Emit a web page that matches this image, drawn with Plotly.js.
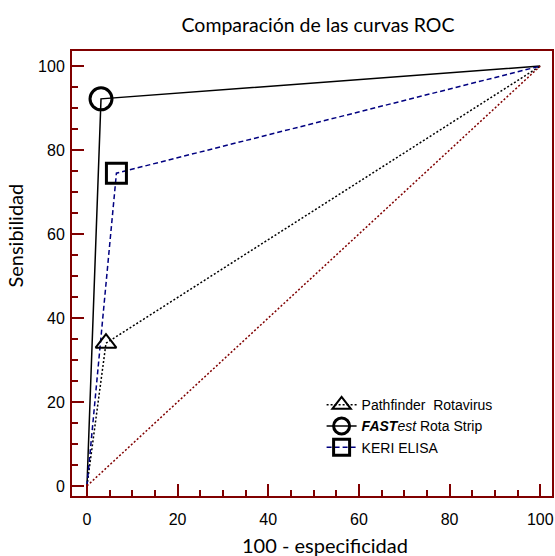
<!DOCTYPE html>
<html><head><meta charset="utf-8">
<script src="https://cdn.plot.ly/plotly-3.0.1.min.js"></script>
<style>body{margin:0;background:#fff}#c{width:555px;height:556px}</style>
</head><body><div id="c"></div>
<script>
// ROC curve points (100 - specificity, sensitivity)
const pathX = [0, 4.2, 100], pathY = [0, 34, 100];
const fastX = [0, 3.1, 100], fastY = [0, 92.2, 100];
const keriX = [0, 6.5, 100], keriY = [0, 74.5, 100];
const diagX = [0, 100], diagY = [0, 100];
const names = ['Pathfinder\u00a0 Rotavirus', '<b><i>FAST</i></b><i>est</i> Rota Strip', 'KERI ELISA'];
const titleText = 'Comparación de las curvas ROC';
const xTitle = '100 - especificidad';
const yTitle = 'Sensibilidad';
const tickVals = [0,5,10,15,20,25,30,35,40,45,50,55,60,65,70,75,80,85,90,95,100];
const tickText = ['0','','','','20','','','','40','','','','60','','','','80','','','','100'];
const xRange = [-3.3, 102.6], yRange = [-2.4, 103.6];

const red = '#800000';
const traces = [
  {x: diagX, y: diagY, xaxis: 'x2', yaxis: 'y2', mode: 'lines', line: {color: red, dash: '2px,2px', width: 1.5}, showlegend: false},
  {x: pathX, y: pathY, mode: 'lines', line: {color: '#000', dash: '2px,2px', width: 1.5}, showlegend: false},
  {x: fastX, y: fastY, mode: 'lines', line: {color: '#000', width: 1.5}, showlegend: false},
  {x: keriX, y: keriY, mode: 'lines', line: {color: '#000080', dash: '5px,3px', width: 1.5}, showlegend: false},
  {x: [pathX[1]], y: [pathY[1]], name: names[0], mode: 'lines+markers', line: {color: '#000', dash: '2px,2px', width: 1.5},
   marker: {symbol: 'triangle-up-open', size: 18, color: '#000', line: {width: 2}}},
  {x: [fastX[1]], y: [fastY[1]], name: names[1], mode: 'lines+markers', line: {color: '#000', width: 1.5},
   marker: {symbol: 'circle-open', size: 22, color: '#000', line: {width: 3}}},
  {x: [keriX[1]], y: [keriY[1]], name: names[2], mode: 'lines+markers', line: {color: '#000080', dash: '5px,3px', width: 1.5},
   marker: {symbol: 'square-open', size: 20, color: '#000', line: {width: 3}}}
];

// main axes: a tick every 5 (short), labels only every 20
function axis(range, standoff) {
  return {
    range: range,
    showgrid: false, zeroline: false, showline: true, linecolor: red, linewidth: 2, mirror: true,
    tickmode: 'array', tickvals: tickVals, ticktext: tickText,
    ticks: 'inside', ticklen: 6, tickwidth: 2, tickcolor: red,
    ticklabelstandoff: standoff,
    tickfont: {family: 'Liberation Sans, Arial, sans-serif', size: 16, color: '#000'}
  };
}
// overlaying same-range axes: the longer ticks every 20
function majorAxis(range, over, anchor, side) {
  return {
    range: range, overlaying: over, anchor: anchor, side: side,
    showgrid: false, zeroline: false, showline: false, showticklabels: false,
    tickmode: 'linear', tick0: 0, dtick: 20,
    ticks: 'inside', ticklen: 12, tickwidth: 2, tickcolor: red
  };
}

const titleFont = {family: 'Lato, Open Sans, sans-serif', size: 20, color: '#000'};
const layout = {
  width: 555, height: 556,
  margin: {l: 72, r: 3, t: 51, b: 60},
  paper_bgcolor: '#fff', plot_bgcolor: '#fff',
  title: {text: titleText, font: {family: 'Lato, Open Sans, sans-serif', size: 19.5, color: '#000'}, x: 0.573, xanchor: 'center', y: 0.955, yanchor: 'middle'},
  xaxis: axis(xRange, 8),
  yaxis: axis(yRange, 2),
  xaxis2: majorAxis(xRange, 'x', 'y2', 'bottom'),
  yaxis2: majorAxis(yRange, 'y', 'x2', 'left'),
  annotations: [
    {text: xTitle, xref: 'paper', yref: 'paper', x: 0.528, y: -0.111, xanchor: 'center', yanchor: 'middle', showarrow: false, font: titleFont},
    {text: yTitle, xref: 'paper', yref: 'paper', x: -0.118, y: 0.586, xanchor: 'center', yanchor: 'middle', textangle: -90, showarrow: false, font: titleFont}
  ],
  legend: {x: 0.52, y: 0.24, xanchor: 'left', yanchor: 'top', bgcolor: 'rgba(0,0,0,0)', tracegroupgap: 0,
    font: {family: 'Liberation Sans, Arial, sans-serif', size: 14, color: '#000'}, itemwidth: 30},
  showlegend: true
};

Plotly.newPlot('c', traces, layout, {displayModeBar: false, staticPlot: true});
</script></body></html>
